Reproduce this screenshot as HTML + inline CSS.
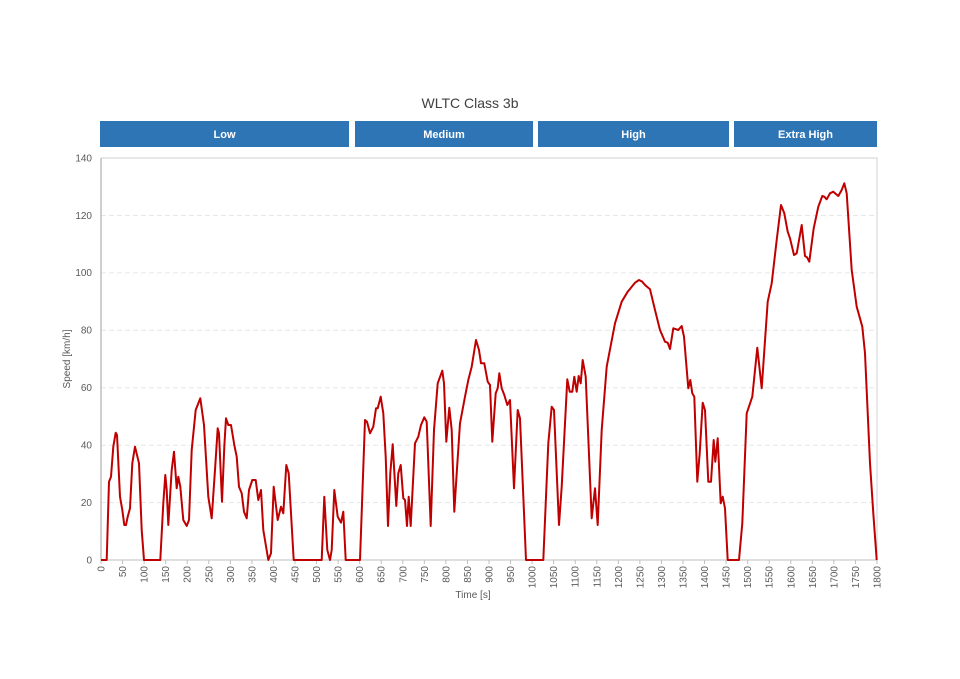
<!DOCTYPE html>
<html><head><meta charset="utf-8"><style>
html,body{margin:0;padding:0;background:#fff;}
svg{display:block;font-family:"Liberation Sans",sans-serif;}
</style></head><body>
<svg width="960" height="679" viewBox="0 0 960 679" xmlns="http://www.w3.org/2000/svg">
<rect width="960" height="679" fill="#fff"/>
<text x="470" y="108" font-size="14" fill="#404040" text-anchor="middle">WLTC Class 3b</text>
<g fill="#2e75b6">
<rect x="100" y="121" width="249" height="26"/>
<rect x="355" y="121" width="178" height="26"/>
<rect x="538" y="121" width="191" height="26"/>
<rect x="734" y="121" width="143" height="26"/>
</g>
<g fill="#fff" font-size="11" font-weight="bold" text-anchor="middle">
<text x="224.5" y="138">Low</text>
<text x="444" y="138">Medium</text>
<text x="633.5" y="138">High</text>
<text x="805.5" y="138">Extra High</text>
</g>
<g stroke="#e6e6e6" stroke-width="1" stroke-dasharray="5,3">
<line x1="101" x2="877" y1="502.6" y2="502.6"/>
<line x1="101" x2="877" y1="445.2" y2="445.2"/>
<line x1="101" x2="877" y1="387.8" y2="387.8"/>
<line x1="101" x2="877" y1="330.3" y2="330.3"/>
<line x1="101" x2="877" y1="272.9" y2="272.9"/>
<line x1="101" x2="877" y1="215.5" y2="215.5"/>
</g>
<polyline points="101,158 877,158 877,560" fill="none" stroke="#d0d0d0" stroke-width="1"/>
<line x1="101" y1="158" x2="101" y2="560" stroke="#bfbfbf" stroke-width="1.5"/>
<line x1="101" y1="560" x2="877" y2="560" stroke="#bfbfbf" stroke-width="1"/>
<g font-size="10" fill="#595959" text-anchor="end">
<text x="92" y="563.5">0</text><text x="92" y="506">20</text><text x="92" y="448.5">40</text><text x="92" y="391">60</text><text x="92" y="333.5">80</text><text x="92" y="276">100</text><text x="92" y="219">120</text><text x="92" y="161.5">140</text>
</g>
<g id="ticks" stroke="#bfbfbf" stroke-width="1"></g>
<g id="xl" font-size="10" fill="#595959" text-anchor="end"></g>
<text x="473" y="598" font-size="10" fill="#595959" text-anchor="middle">Time [s]</text>
<text transform="translate(70,359) rotate(-90)" font-size="10" fill="#595959" text-anchor="middle">Speed [km/h]</text>
<polyline fill="none" stroke="#c00000" stroke-width="2" stroke-linejoin="round" points="
101,560 106.7,560 109,481.7 111,476.7 113.3,446.7 115.7,432.7 117,435 120,496.7 122.3,510 124.3,525 126,525 127.7,516.7 130,508.3 132.3,463.3 135,446.7 139,463.3 141.7,530 144,560 160.3,560 163.3,503.3 165.3,475 166.7,490 168.3,525 171.7,470 174,451.7 176.7,488.3 178.3,476.7 180.3,486.7 183.3,520 186.7,526 189,520 191.7,450 195.7,410 200.3,398.3 204,425 208.3,496.7 211.7,518.3 215,470 217.7,428.3 219,433.3 222,501.7 224.3,446.7 226,418.3 228.3,425 231,425 234.3,445 236.7,456.7 239,486.7 241.7,493.3 244,511.7 246.7,518.3 249,490 252.3,480 255.7,480 258.3,500 261,490 263.3,530 268.3,560 271,553.3 273.7,486.7 277.7,520 281,506.7 283.3,513.3 286.3,465 288.7,473.3 293.7,560 321.7,560 324.3,496.7 327.3,550 330,560 331.7,550 334.3,490 337.7,516.7 341,522.7 343.3,511.7 345.7,560 360,560 365,420 367,421.7 370,433.3 373.3,426.7 376,408.3 377.7,408.3 380.7,396.7 383.3,413.3 385.7,456.7 388,526 390.3,473.3 392.7,444.3 396.3,506 398.3,473.3 400.7,465 403.3,498.3 405,500 407,526 408.7,496.7 410.7,526 415,443.3 418.3,436.7 421,425 424.3,417.3 426.7,421.7 430.7,526 434,430 437.7,383.3 442.3,370.7 444,383.3 446.3,441.7 449.3,407.7 451.7,430 454.3,511.7 456.7,473.3 460,423.3 465,396.7 468.3,380 471.7,366.7 476,340 479,350 481,363.3 484.3,363.3 487.7,381.7 490,385 492.3,441.7 495.7,393.3 497.7,388.3 499.3,373.3 501.7,388.3 504.3,395 507.3,405 510,400 514,488.3 517.7,410 520,418.3 526,560 543.3,560 548.3,443.3 551.7,406.7 554,410 559,525 561.7,486.7 567.3,379.3 569.7,391.7 572.3,391.7 574.3,376.7 576.7,391.7 578.7,376 580.7,383.3 582.7,360 585.7,376.7 591.7,518.3 595,488.3 597.7,525 601.7,430 606.7,366.7 615,323.3 621.7,301.7 627.7,291.7 635,282.7 639,280 642.3,281.7 645,285 650,289.3 655,310 660,330 665,341.7 667.7,342.7 670,349 673.3,328.3 678.3,330 681.7,326 684,336.7 688.3,388.3 690.3,380 692.3,393.3 694.3,396.7 697.3,481.7 699.7,453.3 702.7,402.7 705,410 708.3,481.7 711,481.7 713.7,440 715.3,461.7 717.7,438.3 720.7,503.3 722.7,496.7 725,508.3 727.7,560 739,560 742.3,523.3 746.7,413.3 752.3,396.7 757.3,347.7 761.7,388.3 767.7,301.7 771.7,283.3 776.7,240 781,205 784.3,213.3 787.7,231.7 790,238.3 794,255 796.7,253.3 801.7,225 805,256 807,257.3 809.3,261.7 813.7,228.3 818.3,206.7 822.3,196 824.3,196.7 826.7,199.3 830,193.3 833.3,191.7 838.3,196 841.7,190 844.3,183.3 846.7,193.3 851.7,270 856.7,306.7 862.3,326.7 865,353.3 870,463.3 873.3,513.3 876.7,560"/>
<script>
var t=document.getElementById('ticks'),l=document.getElementById('xl'),ns='http://www.w3.org/2000/svg';
for(var i=0;i<=36;i++){var x=101+i*776/36;
var ln=document.createElementNS(ns,'line');ln.setAttribute('x1',x);ln.setAttribute('x2',x);ln.setAttribute('y1',560);ln.setAttribute('y2',564);t.appendChild(ln);
var tx=document.createElementNS(ns,'text');tx.setAttribute('transform','translate('+(x+3.5)+',566) rotate(-90)');tx.textContent=String(i*50);l.appendChild(tx);}
</script>
</svg>
</body></html>
